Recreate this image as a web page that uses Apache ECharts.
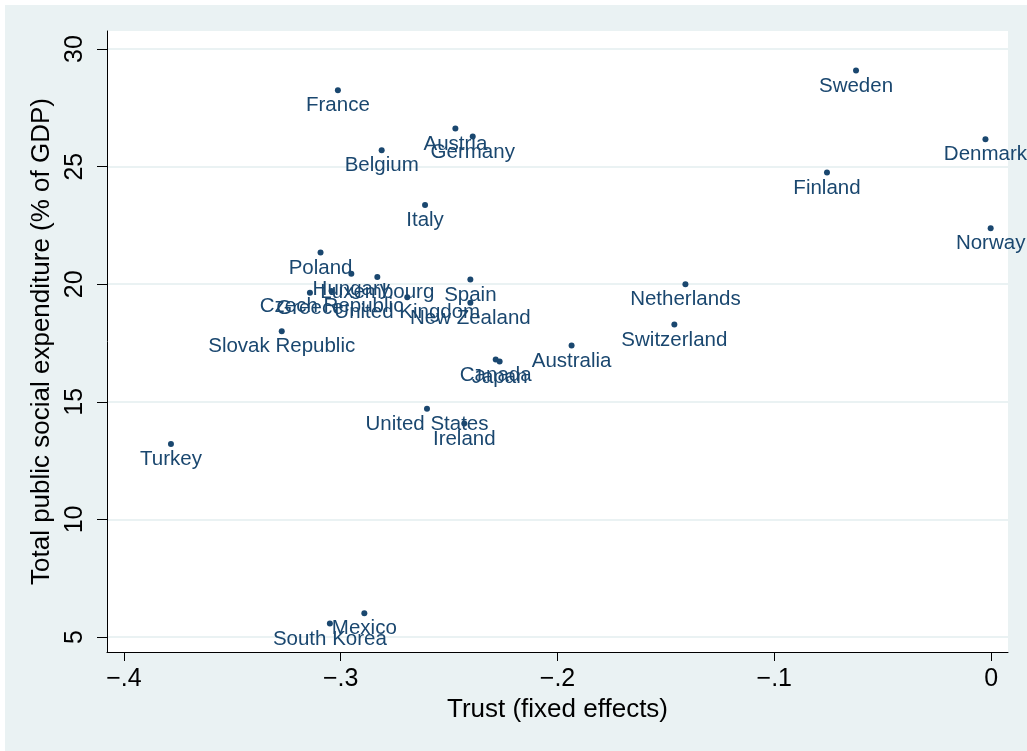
<!DOCTYPE html>
<html>
<head>
<meta charset="utf-8">
<script src="https://cdn.jsdelivr.net/npm/echarts@6/dist/echarts.min.js"></script>
<style>
  html, body { margin: 0; padding: 0; background: #ffffff; }
  #chart { position: absolute; left: 5px; top: 5px; width: 1022px; height: 746px; background: #EAF2F3; }
</style>
</head>
<body>
<div id="chart"></div>
<script>
// Social spending vs. generalized trust, OECD countries
const countries = [
  'Sweden', 'Denmark', 'Finland', 'Norway', 'Netherlands', 'Switzerland',
  'France', 'Austria', 'Germany', 'Belgium', 'Italy', 'Poland',
  'Hungary', 'Luxembourg', 'Spain', 'Czech Republic', 'Greece', 'United Kingdom',
  'New Zealand', 'Slovak Republic', 'Australia', 'Canada', 'Japan', 'United States',
  'Ireland', 'Turkey', 'South Korea', 'Mexico'
];
const trust = [
  -0.0623, -0.0026, -0.0757, -0.0002, -0.1410, -0.1461,
  -0.3013, -0.2471, -0.2391, -0.2811, -0.2611, -0.3093,
  -0.2951, -0.2831, -0.2402, -0.3042, -0.3142, -0.2693,
  -0.2402, -0.3272, -0.1935, -0.2285, -0.2267, -0.2602,
  -0.2430, -0.3783, -0.3050, -0.2891
];
const spending = [
  29.09, 26.17, 24.75, 22.38, 20.00, 18.29,
  28.25, 26.62, 26.28, 25.70, 23.37, 21.35,
  20.45, 20.31, 20.20, 19.71, 19.64, 19.45,
  19.21, 18.00, 17.39, 16.80, 16.71, 14.70,
  14.08, 13.21, 5.57, 6.01
];
const xTicks = [-0.4, -0.3, -0.2, -0.1, 0];
const yTicks = [5, 10, 15, 20, 25, 30];

const navy = '#1a476f';
const font = '"Liberation Sans", Arial, Helvetica, sans-serif';

function fmtX(v) {
  if (Math.abs(v) < 1e-9) return '0';
  const s = Math.abs(v).toFixed(1).replace(/^0/, '');
  return (v < 0 ? '\u2212' : '') + s;
}

const points = countries.map((c, i) => ({ name: c, value: [trust[i], spending[i]] }));

const chart = echarts.init(document.getElementById('chart'), null, { renderer: 'canvas' });
chart.setOption({
  animation: false,
  backgroundColor: '#EAF2F3',
  textStyle: { fontFamily: font },
  grid: {
    left: 102, top: 26, right: 19, bottom: 99,
    show: true, backgroundColor: '#ffffff', borderWidth: 0
  },
  xAxis: {
    type: 'value',
    min: -0.4078, max: 0.0078,
    name: 'Trust (fixed effects)',
    nameLocation: 'middle',
    nameGap: 36,
    nameTextStyle: { color: '#000', fontSize: 26, fontFamily: font },
    axisLine: { show: true, onZero: false, lineStyle: { color: '#000', width: 1 } },
    axisTick: { show: true, customValues: xTicks, length: 9, lineStyle: { color: '#000', width: 1 } },
    axisLabel: { show: true, customValues: xTicks, formatter: fmtX, color: '#000', fontSize: 25, fontFamily: font, margin: 15 },
    splitLine: { show: false }
  },
  yAxis: {
    type: 'value',
    min: 4.36, max: 30.77,
    name: 'Total public social expenditure (% of GDP)',
    nameLocation: 'middle',
    nameRotate: 90,
    nameGap: 40,
    nameTextStyle: { color: '#000', fontSize: 26, fontFamily: font },
    axisLine: { show: true, onZero: false, lineStyle: { color: '#000', width: 1 } },
    axisTick: { show: true, customValues: yTicks, length: 10, lineStyle: { color: '#000', width: 1 } },
    axisLabel: { show: true, customValues: yTicks, rotate: 90, color: '#000', fontSize: 25, fontFamily: font, margin: 19 },
    splitLine: { show: false }
  },
  series: [
    {
      // horizontal grid lines at the y ticks, kept beneath the points
      type: 'scatter',
      data: [],
      z: 0,
      silent: true,
      markLine: {
        z: 0,
        silent: true,
        symbol: ['none', 'none'],
        label: { show: false },
        lineStyle: { color: '#EAF2F3', width: 2, type: 'solid', opacity: 1 },
        emphasis: { disabled: true },
        data: yTicks.map(v => ({ yAxis: v }))
      }
    },
    {
      type: 'scatter',
      z: 10,
      symbol: 'circle',
      symbolSize: 6,
      itemStyle: { color: navy, opacity: 1 },
      data: points,
      label: {
        show: true,
        position: 'bottom',
        distance: 2,
        formatter: p => p.name,
        color: navy,
        opacity: 1,
        fontSize: 20.5,
        fontFamily: font
      },
      labelLayout: { hideOverlap: false }
    }
  ]
});
</script>
</body>
</html>
